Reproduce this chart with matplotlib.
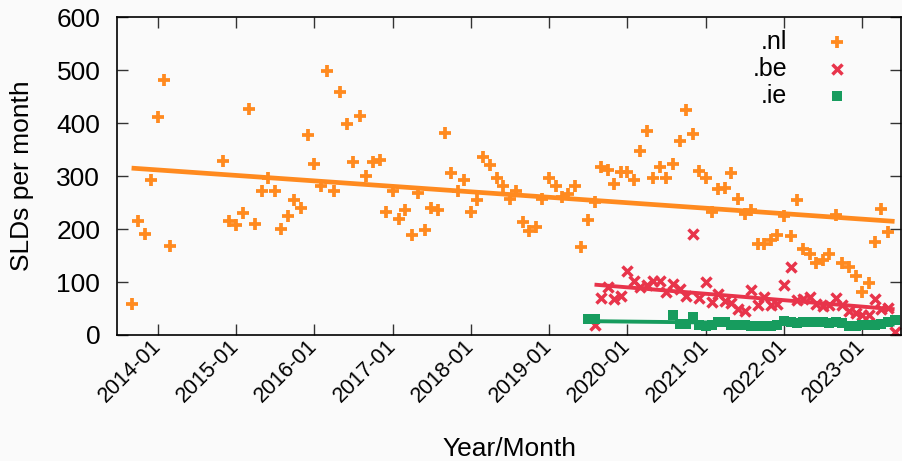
import numpy as np
import pandas as pd
import matplotlib
matplotlib.use("Agg")
import matplotlib.pyplot as plt
import matplotlib.dates as mdates

plt.rcParams['font.family'] = ['Liberation Sans', 'DejaVu Sans']

nan = np.nan

# monthly counts of second-level domains, one entry per month from the start month
nl_start = '2013-09'
nl_values = [59, 215, 190, 292, 412, 481, 168,
             nan, nan, nan, nan, nan, nan, nan,
             328, 216,
             208, 231, 427, 210, 271, 296, 272, 200, 224, 254, 240, 378,
             322, 281, 499, 272, 459, 399, 327, 413, 300, 326, 331, 233,
             271, 219, 235, 189, 268, 198, 240, 235, 381, 305, 272, 292,
             233, 255, 335, 321, 296, 282, 257, 272, 214, 196, 203, 257,
             296, 282, 260, 266, 282, 166, 217, 251, 317, 312, 284, 308,
             308, 292, 347, 385, 297, 317, 297, 322, 366, 424, 380, 310,
             297, 233, 275, 277, 306, 256, 229, 235, 172, 172, 180, 188,
             224, 187, 255, 163, 152, 136, 141, 153, 227, 136, 128, 112,
             82, 98, 175, 237, 195]

be_start = '2019-08'
be_values = [18, 70, 90, 68, 73,
             121, 102, 91, 94, 101, 101, 82, 96, 87, 73, 191, 70,
             100, 62, 78, 65, 61, 49, 46, 85, 56, 71, 57, 59,
             94, 128, 66, 68, 71, 58, 54, 56, 70, 56, 46, 41,
             37, 38, 67, 50, 51, 5]

ie_start = '2019-07'
ie_values = [31, 31, nan, nan, nan, nan, nan,
             nan, nan, nan, nan, nan, nan, 38, 21, 21, 34, 19,
             17, 18, 24, 24, 18, 18, 19, 17, 17, 17, 17, 19,
             27, 25, 23, 25, 24, 24, 24, 23, 24, 22, 17, 17,
             18, 18, 19, 21, 24, 29]

fit_end = '2023-06'

series = [
    ('.nl', nl_start, nl_values, '#ff8a1f'),
    ('.be', be_start, be_values, '#e8344b'),
    ('.ie', ie_start, ie_values, '#179c5e'),
]
marker_styles = {
    '.nl': dict(marker='+', markersize=8, markeredgewidth=2.7),
    '.be': dict(marker='x', markersize=7.5, markeredgewidth=2.5),
    '.ie': dict(marker='s', markersize=6.5, markeredgewidth=0),
}
fit_widths = {'.nl': 3.4, '.be': 2.8, '.ie': 2.8}

fig = plt.figure(figsize=(9.02, 4.61), dpi=100, facecolor='#fafafa')
ax = fig.add_axes([117 / 902, 1 - 335 / 461, 784 / 902, 318 / 461])
ax.set_facecolor('#fafafa')

for name, start, values, color in series:
    dates = pd.date_range(start, periods=len(values), freq='MS')
    vals = np.array(values, dtype=float)
    ax.plot(dates, vals, linestyle='none', color=color, **marker_styles[name])

    # least-squares trend over the months that have data
    ok = ~np.isnan(vals)
    xnum = mdates.date2num(dates[ok])
    slope, icpt = np.polyfit(xnum, vals[ok], 1)
    xs = mdates.date2num(pd.to_datetime([start, fit_end]))
    ax.plot(mdates.num2date(xs), slope * xs + icpt, color=color,
            lw=fit_widths[name], solid_capstyle='butt')

ax.set_xlim(pd.Timestamp('2013-06-25'), pd.Timestamp('2023-07-01'))
ax.set_ylim(0, 600)
ax.set_yticks(np.arange(0, 601, 100))

ax.xaxis.set_major_locator(mdates.YearLocator(month=1))
ax.xaxis.set_major_formatter(mdates.DateFormatter('%Y-%m'))
ax.tick_params(axis='both', direction='in', top=True, right=True,
               length=8, width=1.0, color='#333333')
ax.tick_params(axis='y', labelsize=19, pad=12)
ax.tick_params(axis='x', labelsize=15.5, pad=6)
for lab in ax.get_xticklabels():
    lab.set_rotation(45)
    lab.set_ha('right')
    lab.set_va('center')
    lab.set_rotation_mode('anchor')

for sp in ax.spines.values():
    sp.set_linewidth(1.2)

ax.set_ylabel('SLDs per month', fontsize=19)
ax.yaxis.set_label_coords(-0.106, 0.5)
ax.set_xlabel('Year/Month', fontsize=19)
ax.xaxis.set_label_coords(0.5, -0.322)

# key in the upper right: right-aligned names with a sample marker beside each
for i, (name, start, values, color) in enumerate(series):
    ypos = 0.922 - i * 0.085
    ax.text(0.855, ypos, name, transform=ax.transAxes, ha='right', va='center',
            fontsize=18)
    ax.plot([0.918], [ypos], transform=ax.transAxes, color=color,
            linestyle='none', clip_on=False, **marker_styles[name])

fig.savefig('out.png', dpi=100, facecolor=fig.get_facecolor())
